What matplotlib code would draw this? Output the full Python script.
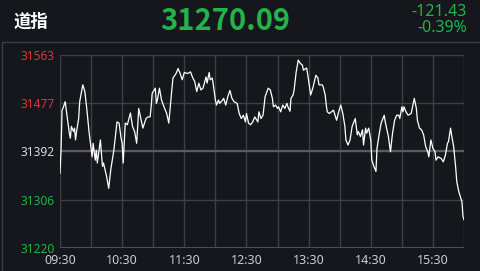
import matplotlib.pyplot as plt

# minutes since 09:30 and index level
minutes = [0, 1, 2, 3, 5, 9, 10, 11, 13, 14, 15, 16, 18, 19, 22, 24, 26, 28, 31, 32,
           34, 35, 36, 39, 41, 42, 45, 47, 49, 52, 55, 57, 59, 60, 61, 63, 65, 68, 70, 72,
           74, 76, 78, 80, 83, 85, 87, 88, 89, 92, 93, 94, 96, 98, 101, 103, 105, 107, 109, 112,
           114, 116, 118, 120, 123, 126, 128, 130, 132, 134, 136, 138, 141, 142, 144, 145, 147, 148, 150, 151,
           153, 154, 157, 158, 160, 162, 164, 166, 168, 171, 173, 175, 177, 179, 180, 182, 184, 186, 188, 191,
           192, 194, 196, 198, 201, 203, 205, 206, 208, 210, 211, 213, 215, 217, 219, 220, 222, 223, 225, 226,
           228, 230, 232, 234, 235, 238, 239, 241, 242, 244, 246, 247, 249, 250, 253, 254, 256, 257, 258, 260,
           262, 264, 266, 267, 269, 271, 273, 275, 276, 278, 280, 282, 285, 287, 288, 290, 292, 293, 295, 296,
           298, 300, 301, 303, 305, 306, 308, 310, 313, 314, 317, 319, 321, 323, 325, 327, 328, 330, 331, 332,
           334, 336, 339, 341, 342, 344, 345, 347, 349, 351, 353, 355, 356, 358, 360, 362, 363, 365, 368, 370,
           372, 374, 375, 377, 378, 380, 382, 383, 385, 386, 388, 389, 390]
values = [31353, 31394, 31465, 31469, 31480, 31424, 31415, 31436, 31427, 31433, 31412, 31427, 31450, 31480, 31510, 31498, 31465, 31427, 31382, 31406,
          31376, 31394, 31371, 31412, 31365, 31371, 31347, 31326, 31359, 31394, 31444, 31442, 31415, 31406, 31371, 31442, 31439, 31460, 31436, 31427,
          31406, 31468, 31450, 31433, 31450, 31453, 31453, 31471, 31495, 31504, 31477, 31483, 31504, 31483, 31468, 31459, 31442, 31483, 31522, 31530,
          31539, 31530, 31519, 31532, 31530, 31533, 31523, 31516, 31498, 31513, 31501, 31504, 31524, 31513, 31532, 31519, 31522, 31510, 31483, 31474,
          31483, 31477, 31483, 31486, 31474, 31489, 31500, 31486, 31480, 31477, 31459, 31450, 31456, 31444, 31459, 31442, 31439, 31444, 31453, 31444,
          31462, 31450, 31456, 31489, 31504, 31501, 31486, 31471, 31474, 31468, 31471, 31462, 31474, 31468, 31477, 31471, 31463, 31486, 31492, 31501,
          31533, 31554, 31548, 31545, 31536, 31540, 31530, 31504, 31492, 31504, 31519, 31527, 31522, 31510, 31510, 31507, 31492, 31474, 31462, 31459,
          31462, 31465, 31453, 31447, 31462, 31474, 31459, 31436, 31412, 31403, 31412, 31436, 31450, 31421, 31427, 31418, 31430, 31403, 31433, 31424,
          31433, 31412, 31376, 31365, 31356, 31397, 31421, 31442, 31456, 31444, 31418, 31391, 31424, 31447, 31456, 31456, 31450, 31471, 31462, 31471,
          31462, 31456, 31459, 31477, 31486, 31468, 31447, 31433, 31430, 31421, 31400, 31391, 31382, 31412, 31397, 31391, 31376, 31382, 31379, 31373,
          31385, 31406, 31409, 31433, 31421, 31400, 31362, 31338, 31320, 31314, 31302, 31276, 31270.09]

prev_close = 31391.52
y_ticks = [31563, 31477.25, 31391.5, 31305.75, 31220]
y_labels = ["31563", "31477", "31392", "31306", "31220"]
x_ticks = [0, 60, 120, 180, 240, 300, 360]
x_labels = ["09:30", "10:30", "11:30", "12:30", "13:30", "14:30", "15:30"]

BG = "#15171c"
GRID = "#3c3f45"
GREEN = "#22b34b"
RED = "#d8353d"
CJK = ["Noto Sans CJK SC", "DejaVu Sans"]

fig = plt.figure(figsize=(4.8, 2.71), dpi=100, facecolor=BG)
ax = fig.add_axes([0.125, 0.085, 0.8417, 0.712])
ax.set_facecolor(BG)

# grid
for m in range(0, 391, 30):
    ax.axvline(m, color=GRID, lw=1.0, zorder=1)
for v in y_ticks:
    ax.axhline(v, color=GRID, lw=1.0, zorder=1)
ax.axhline(y_ticks[2], color="#585b61", lw=1.6, zorder=1)
ax.axhline(y_ticks[-1], color="#4a4d53", lw=2.2, zorder=1)

ax.plot(minutes, values, color="white", lw=0.9, zorder=3)

ax.set_xlim(0, 390)
ax.set_ylim(31220, 31563)
for s in ax.spines.values():
    s.set_visible(False)

ax.set_xticks(x_ticks)
ax.set_xticklabels(x_labels, color="#c9cdd2", fontsize=9, family="Noto Sans")
ax.set_yticks(y_ticks)
ax.set_yticklabels(y_labels, fontsize=8.6, family="Noto Sans")
for lbl, c in zip(ax.get_yticklabels(), [RED, RED, "#d5dbe2", GREEN, GREEN]):
    lbl.set_color(c)
ax.tick_params(length=0, pad=4)

# header
fig.add_artist(plt.Line2D([3 / 480, 1], [1 - 42 / 271] * 2, color="#3a3d43", lw=1))
fig.add_artist(plt.Line2D([2 / 480] * 2, [0, 1 - 42 / 271], color="#3a3d43", lw=1))
fig.text(14 / 480, 1 - 22 / 271, "道指", color="white", fontsize=12.5, weight="bold",
         family=CJK, va="center", ha="left")
last = values[-1]
fig.text(225 / 480, 1 - 21 / 271, f"{last:.2f}", color=GREEN, fontsize=21, weight="bold",
         family=CJK, va="center", ha="center")
change = last - prev_close
fig.text(467 / 480, 1 - 12.5 / 271, f"{change:.2f}", color=GREEN, fontsize=11.5,
         family="Noto Sans", va="center", ha="right")
fig.text(467 / 480, 1 - 27.5 / 271, f"{change / prev_close * 100:.2f}%", color=GREEN, fontsize=11.5,
         family="Noto Sans", va="center", ha="right")

fig.savefig("out.png", dpi=100, facecolor=BG)
